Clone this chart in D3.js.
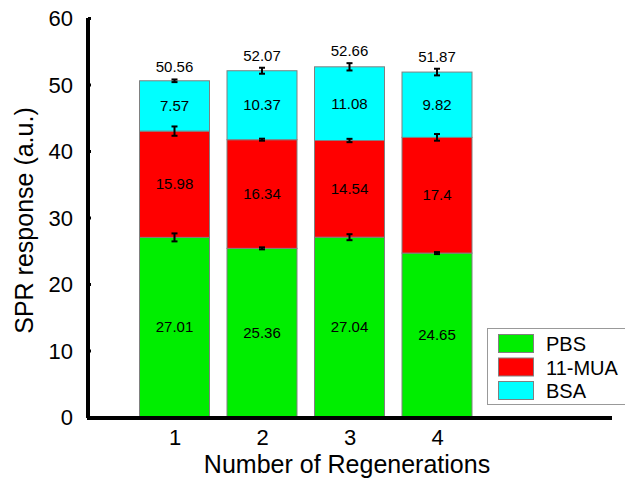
<!DOCTYPE html>
<html>
<head>
<meta charset="utf-8">
<script src="https://cdn.jsdelivr.net/npm/d3@7"></script>
<style>
  html, body { margin: 0; padding: 0; background: #fff; }
  svg { display: block; font-family: "Liberation Sans", Arial, sans-serif; }
</style>
</head>
<body>
<svg id="chart" width="625" height="479"></svg>
<script>
// Regeneration cycles and stacked SPR responses
const regenerations = [1, 2, 3, 4];
const pbs = [27.01, 25.36, 27.04, 24.65];
const mua = [15.98, 16.34, 14.54, 17.4];
const bsa = [7.57, 10.37, 11.08, 9.82];
const totals = [50.56, 52.07, 52.66, 51.87];
// error half-widths at the top of each layer
const pbsErr = [0.6, 0.15, 0.45, 0.15];
const muaErr = [0.7, 0.15, 0.25, 0.5];
const bsaErr = [0.2, 0.45, 0.55, 0.5];
const seriesNames = ["PBS", "11-MUA", "BSA"];
const seriesColors = ["#00ee00", "#ff0000", "#00ffff"];
const yTicks = [0, 10, 20, 30, 40, 50, 60];

const svg = d3.select("#chart");
const x = d3.scaleLinear().domain([0, 6]).range([87, 612]);
const y = d3.scaleLinear().domain([0, 60]).range([417, 18]);
const barW = x(0.8) - x(0);

const rows = regenerations.map((r, i) => ({ r, PBS: pbs[i], "11-MUA": mua[i], BSA: bsa[i] }));
const stacked = d3.stack().keys(seriesNames)(rows);
const errs = [pbsErr, muaErr, bsaErr];
const labels = [pbs, mua, bsa];

// stacked segments
stacked.forEach((layer, li) => {
  svg.append("g").selectAll("rect").data(layer).join("rect")
    .attr("x", d => x(d.data.r) - barW / 2)
    .attr("width", barW)
    .attr("y", d => y(d[1]))
    .attr("height", d => y(d[0]) - y(d[1]))
    .attr("fill", seriesColors[li])
    .attr("stroke", "#808080")
    .attr("stroke-width", 1);
});

// value labels inside segments
stacked.forEach((layer, li) => {
  svg.append("g").selectAll("text").data(layer).join("text")
    .attr("x", d => x(d.data.r))
    .attr("y", d => y((d[0] + d[1]) / 2) + 5)
    .attr("text-anchor", "middle")
    .attr("font-size", 15)
    .attr("fill", "#000")
    .text((d, i) => labels[li][i]);
});

// error bars at each layer top
stacked.forEach((layer, li) => {
  const g = svg.append("g").attr("stroke", "#000").attr("stroke-width", 2);
  layer.forEach((d, i) => {
    const cx = x(d.data.r);
    const e = errs[li][i];
    const y1 = y(d[1] + e), y2 = y(d[1] - e);
    g.append("line").attr("x1", cx).attr("x2", cx).attr("y1", y1).attr("y2", y2);
    g.append("line").attr("x1", cx - 3).attr("x2", cx + 3).attr("y1", y1).attr("y2", y1);
    g.append("line").attr("x1", cx - 3).attr("x2", cx + 3).attr("y1", y2).attr("y2", y2);
  });
});

// totals above bars
svg.append("g").selectAll("text").data(totals).join("text")
  .attr("x", (d, i) => x(regenerations[i]))
  .attr("y", (d, i) => y(d + bsaErr[i]) - 7)
  .attr("text-anchor", "middle")
  .attr("font-size", 15)
  .text(d => d);

// y axis
const yAxis = svg.append("g").attr("transform", `translate(${x(0) + 1},0)`)
  .call(d3.axisRight(y).tickValues(yTicks).tickSize(3).tickFormat(""));
yAxis.select(".domain").attr("stroke", "#000").attr("stroke-width", 4).attr("d", `M0,${y(60)}V${y(0) + 1}`);
yAxis.selectAll(".tick line").attr("stroke-width", 3);
svg.append("g").selectAll("text").data(yTicks).join("text")
  .attr("x", 73).attr("y", d => y(d) + 8)
  .attr("text-anchor", "end").attr("font-size", 22)
  .text(d => d);

// x axis
const xAxis = svg.append("g").attr("transform", `translate(0,${y(0) + 1})`)
  .call(d3.axisBottom(x).tickValues(regenerations).tickSize(0).tickPadding(11).tickFormat(d3.format("d")));
xAxis.select(".domain").attr("stroke", "#000").attr("stroke-width", 4).attr("d", `M${x(0)},0H612`);
xAxis.selectAll(".tick text").attr("font-size", 22).attr("font-family", "Liberation Sans, Arial, sans-serif").attr("fill", "#000");

// axis titles
svg.append("text").attr("x", 347).attr("y", 473).attr("text-anchor", "middle")
  .attr("font-size", 25).text("Number of Regenerations");
svg.append("text").attr("transform", `translate(33,${y(30) + 3}) rotate(-90)`)
  .attr("text-anchor", "middle").attr("font-size", 25).text("SPR response (a.u.)");

// legend
const lg = svg.append("g");
lg.append("rect").attr("x", 487.5).attr("y", 328.5).attr("width", 145).attr("height", 76)
  .attr("fill", "#fff").attr("stroke", "#999");
seriesNames.forEach((n, i) => {
  lg.append("rect").attr("x", 498.5).attr("y", 334.5 + i * 23.5).attr("width", 35).attr("height", 18)
    .attr("fill", seriesColors[i]).attr("stroke", "#808080");
  lg.append("text").attr("x", 546).attr("y", 351 + i * 23.5).attr("font-size", 20).text(n);
});
</script>
</body>
</html>
